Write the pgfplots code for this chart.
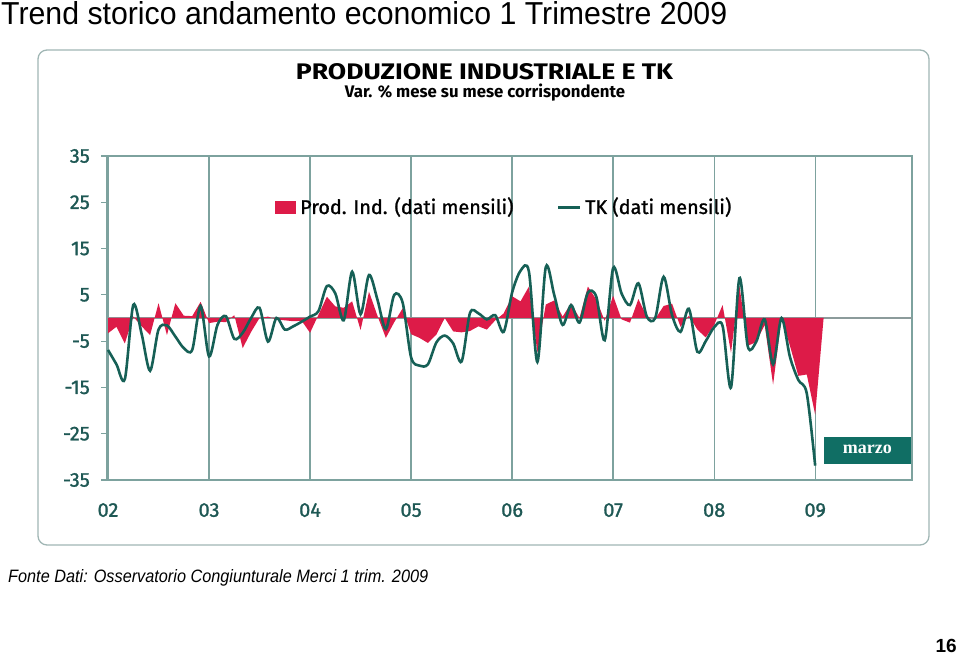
\documentclass[border=0pt]{standalone}
\usepackage{pgfplots}
\pgfplotsset{compat=1.18}
\usepackage{pgfplotstable}
\usepackage{fontspec}
\setmainfont{Liberation Sans}
\newfontfamily\chartfont{Fira Sans}
\newfontfamily\tickfont[FakeBold=1.2]{Fira Sans}
\newfontfamily\marzofont{Liberation Serif}
\definecolor{redcol}{RGB}{221,27,72}
\definecolor{tkcol}{RGB}{22,96,86}
\definecolor{gridcol}{RGB}{125,162,158}
\definecolor{zerocol}{RGB}{140,155,155}
\definecolor{labcol}{RGB}{30,88,84}
\definecolor{framecol}{RGB}{160,182,180}
\definecolor{marzocol}{RGB}{16,110,100}

\pgfplotstableread{
m v
0 -3.3
1 -1.9
2 -5.5
3 0.3
4 -1.8
5 -3.7
6 3.2
7 -3.7
8 3.2
9 0.5
10 0.4
11 3.5
12 -1.1
13 -0.8
14 -0.9
15 0.6
16 -6.5
17 -3
18 0
19 0.3
20 -0.3
21 -0.5
22 -0.7
23 -0.6
24 -3.2
25 0.7
26 4.6
27 2.5
28 2.2
29 3.6
30 -2.6
31 5.7
32 0.5
33 -4.3
34 -0.9
35 2.1
36 -3.5
37 -4.3
38 -5.4
39 -3.6
40 0
41 -2.9
42 -3.1
43 -2.8
44 -1.8
45 -2.5
46 -0.5
47 1
48 4.7
49 3.6
50 6.8
51 -7.5
52 2.9
53 3.8
54 0.3
55 3.2
56 0
57 6.8
58 4
59 -0.6
60 4.8
61 -0.3
62 -1
63 4.1
64 0.3
65 -0.2
66 2.6
67 3.1
68 -1.9
69 0.5
70 -2.5
71 -4.2
72 -1.5
73 2.8
74 -7.5
75 7
76 -6
77 -5.2
78 -1.5
79 -14.4
80 0
81 -6
82 -12.5
83 -12.2
84 -20.9
85 0
}\prodind

\pgfplotstableread{
m v
0 -6.9
1 -10
2 -13.2
3 2.8
4 -3.5
5 -11.4
6 -2.5
7 -1.6
8 -4
9 -6.5
10 -6.9
11 2.6
12 -8.3
13 -1.5
14 0.4
15 -4.5
16 -3.2
17 0
18 2.2
19 -5.1
20 0
21 -2.5
22 -1.8
23 -0.8
24 0.3
25 1.5
26 6.9
27 5.3
28 -0.5
29 10
30 0.8
31 9.3
32 4
33 -2.4
34 5
35 3.3
36 -8.5
37 -10.3
38 -10
39 -5.3
40 -3.8
41 -5.5
42 -9.4
43 1.1
44 1
45 -0.3
46 0.6
47 -3
48 5.5
49 10.2
50 10
51 -9.5
52 11
53 5
54 -1.5
55 2.8
56 -1
57 5.5
58 4.6
59 -4.8
60 10.8
61 5.3
62 2.8
63 7.5
64 0.3
65 0
66 8.9
67 0.6
68 -3
69 2
70 -7.3
71 -5
72 -2
73 -1.7
74 -15
75 8.6
76 -6.2
77 -5.1
78 -0.3
79 -10
80 0
81 -8.4
82 -13.4
83 -16.3
84 -31.9
}\tk

\begin{document}
\begin{tikzpicture}
\path[use as bounding box] (0,0) rectangle (960bp,656bp);
% page title
\node[anchor=base west, inner sep=0] at (1bp,631bp)
  {\resizebox{726bp}{23bp}{\fontsize{30bp}{36bp}\selectfont Trend storico andamento economico 1 Trimestre 2009}};
% chart frame
\draw[framecol, line width=1.3bp, rounded corners=9bp] (38bp,111bp) rectangle (929bp,606bp);
% chart titles
\node[anchor=base, inner sep=0] at (484.5bp,576bp)
  {\resizebox{377bp}{16bp}{\chartfont\bfseries PRODUZIONE INDUSTRIALE E TK}};
\node[anchor=base, inner sep=0] at (485bp,558bp)
  {\resizebox{280bp}{!}{\chartfont\bfseries Var. \% mese su mese corrispondente}};

\begin{axis}[
  at={(107bp,176bp)}, anchor=south west,
  scale only axis, width=805bp, height=324bp,
  xmin=-0.12, xmax=95.5, ymin=-35, ymax=35,
  xtick={0,12,...,84},
  xticklabels={02,03,04,05,06,07,08,09},
  ytick={-35,-25,...,35},
  yticklabels={-35,-25,-15,-5,5,15,25,35},
  ytick pos=left,
  xmajorgrids,
  major x grid style={gridcol, line width=1.3bp},
  axis line style={gridcol, line width=1.3bp},
  tick align=outside,
  major tick length=6bp,
  x tick style={draw=none},
  y tick style={gridcol, line width=1.2bp},
  tick label style={font=\tickfont\fontsize{20bp}{20bp}\selectfont, text=labcol},
  yticklabel style={anchor=east, inner sep=0pt, xshift=-11bp},
  xticklabel style={anchor=north, inner sep=0pt, yshift=-17bp},
  extra y ticks={0}, extra y tick labels={},
  extra y tick style={ymajorgrids=true, major grid style={zerocol, line width=1.2bp}, tick style={draw=none}},
  clip=false,
]
\addplot[fill=redcol, draw=none] table[x=m, y=v] {\prodind} \closedcycle;
\addplot[tkcol, line width=2.6bp, smooth] table[x=m, y=v] {\tk};
\fill[marzocol] (axis cs:85,-25.7) rectangle (axis cs:95.4,-31.5);
\node[text=white, inner sep=0] at (axis cs:90.2,-28.3) {\marzofont\bfseries\fontsize{18bp}{18bp}\selectfont marzo};
\end{axis}

% legend
\fill[redcol] (275bp,442bp) rectangle (296bp,455bp);
\node[anchor=base west, inner sep=0] at (300bp,442bp)
  {\tickfont\fontsize{19.8bp}{19.8bp}\selectfont Prod. Ind. (dati mensili)};
\draw[tkcol, line width=2.6bp] (558bp,448.5bp) -- (580bp,448.5bp);
\node[anchor=base west, inner sep=0] at (585bp,442bp)
  {\tickfont\fontsize{19.8bp}{19.8bp}\selectfont TK (dati mensili)};

% footer
\node[anchor=base west, inner sep=0] at (8bp,73bp)
  {\resizebox{420bp}{13bp}{\itshape\fontsize{17bp}{20bp}\selectfont Fonte Dati: Osservatorio Congiunturale Merci 1 trim. 2009}};
\node[anchor=base east, inner sep=0] at (957bp,4bp)
  {\fontsize{19bp}{19bp}\selectfont\bfseries 16};
\end{tikzpicture}
\end{document}
